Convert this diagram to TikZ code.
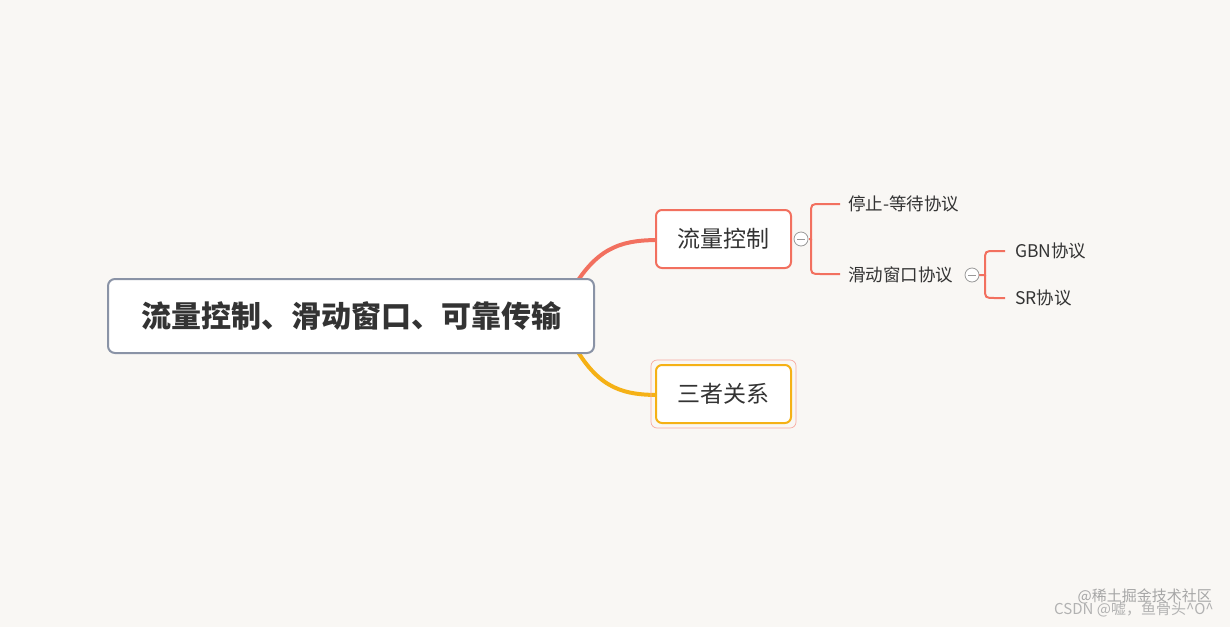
\documentclass[tikz,border=0pt]{standalone}
\usepackage{fontspec}
\setmainfont{Noto Sans CJK SC}
\begin{document}
\begin{tikzpicture}[x=1pt,y=-1pt,
  salmon/.style={draw=sal,line width=2pt},
  box/.style={rounded corners=6pt,fill=white,line width=2pt,minimum width=135pt,minimum height=58pt,font=\fontsize{23}{26}\selectfont,text=txt},
  leaf/.style={anchor=west,inner sep=0pt,font=\fontsize{17.5}{20}\selectfont,text=txt},
  coll/.style={circle,draw=gray!80,fill=white,line width=0.8pt,minimum size=14pt,inner sep=0pt}]
\definecolor{bg}{HTML}{F9F7F4}
\definecolor{sal}{HTML}{F2705F}
\definecolor{yel}{HTML}{F5B116}
\definecolor{txt}{HTML}{333333}
\definecolor{rootb}{HTML}{8A93A6}
\fill[bg] (0,0) rectangle (1230,627);
\useasboundingbox (0,0) rectangle (1230,627);
% branches
\draw[sal,line width=4pt] (575,285) .. controls (600,245) and (625,240) .. (660,240);
\draw[yel,line width=4pt] (575,347) .. controls (600,390) and (625,395) .. (660,395);
\node[rounded corners=7pt,draw=rootb,fill=white,line width=2pt,minimum width=486pt,minimum height=74pt,font=\fontsize{30}{34}\selectfont\bfseries,text=txt] (root) at (351,316) {流量控制、滑动窗口、可靠传输};
\node[box,draw=sal] (flow) at (723.5,239) {流量控制};
\node[rounded corners=6pt,draw=sal!60,line width=0.7pt,minimum width=145pt,minimum height=68pt] (outer) at (723.5,394) {};
\node[box,draw=yel] (rel) at (723.5,394) {三者关系};
% level 2
\node[leaf] (stop) at (848,204) {停止-等待协议};
\node[leaf] (slide) at (848,275) {滑动窗口协议};
\coordinate (b1) at (809,239);
\draw[salmon] (b1) -- (811,239) -- (811,214) .. controls (811,204) .. (821,204) -- (840,204);
\draw[salmon] (811,239) -- (811,264) .. controls (811,274) .. (821,274) -- (840,274);
\node[coll] (c1) at (801,239) {};
\draw[gray!80,line width=0.8pt] ([xshift=-4pt]c1.center) -- ([xshift=4pt]c1.center);
% level 3
\node[leaf] (gbn) at (1015,251) {GBN协议};
\node[leaf] (sr) at (1015,298) {SR协议};
\draw[salmon] (979,275) -- (985,275) -- (985,261) .. controls (985,251) .. (995,251) -- (1005,251);
\draw[salmon] (985,275) -- (985,288) .. controls (985,298) .. (995,298) -- (1005,298);
\node[coll] (c2) at (972,275) {};
\draw[gray!80,line width=0.8pt] ([xshift=-4pt]c2.center) -- ([xshift=4pt]c2.center);
% watermarks
\node[anchor=east,inner sep=0pt,text=gray!70,font=\fontsize{15}{18}\selectfont] (wm1) at (1212,596) {@稀土掘金技术社区};
\node[anchor=east,inner sep=0pt,text=gray!60,font=\fontsize{15}{18}\selectfont] (wm2) at (1214,609) {CSDN @嘘，鱼骨头\^{}O\^{}};
\end{tikzpicture}
\end{document}
